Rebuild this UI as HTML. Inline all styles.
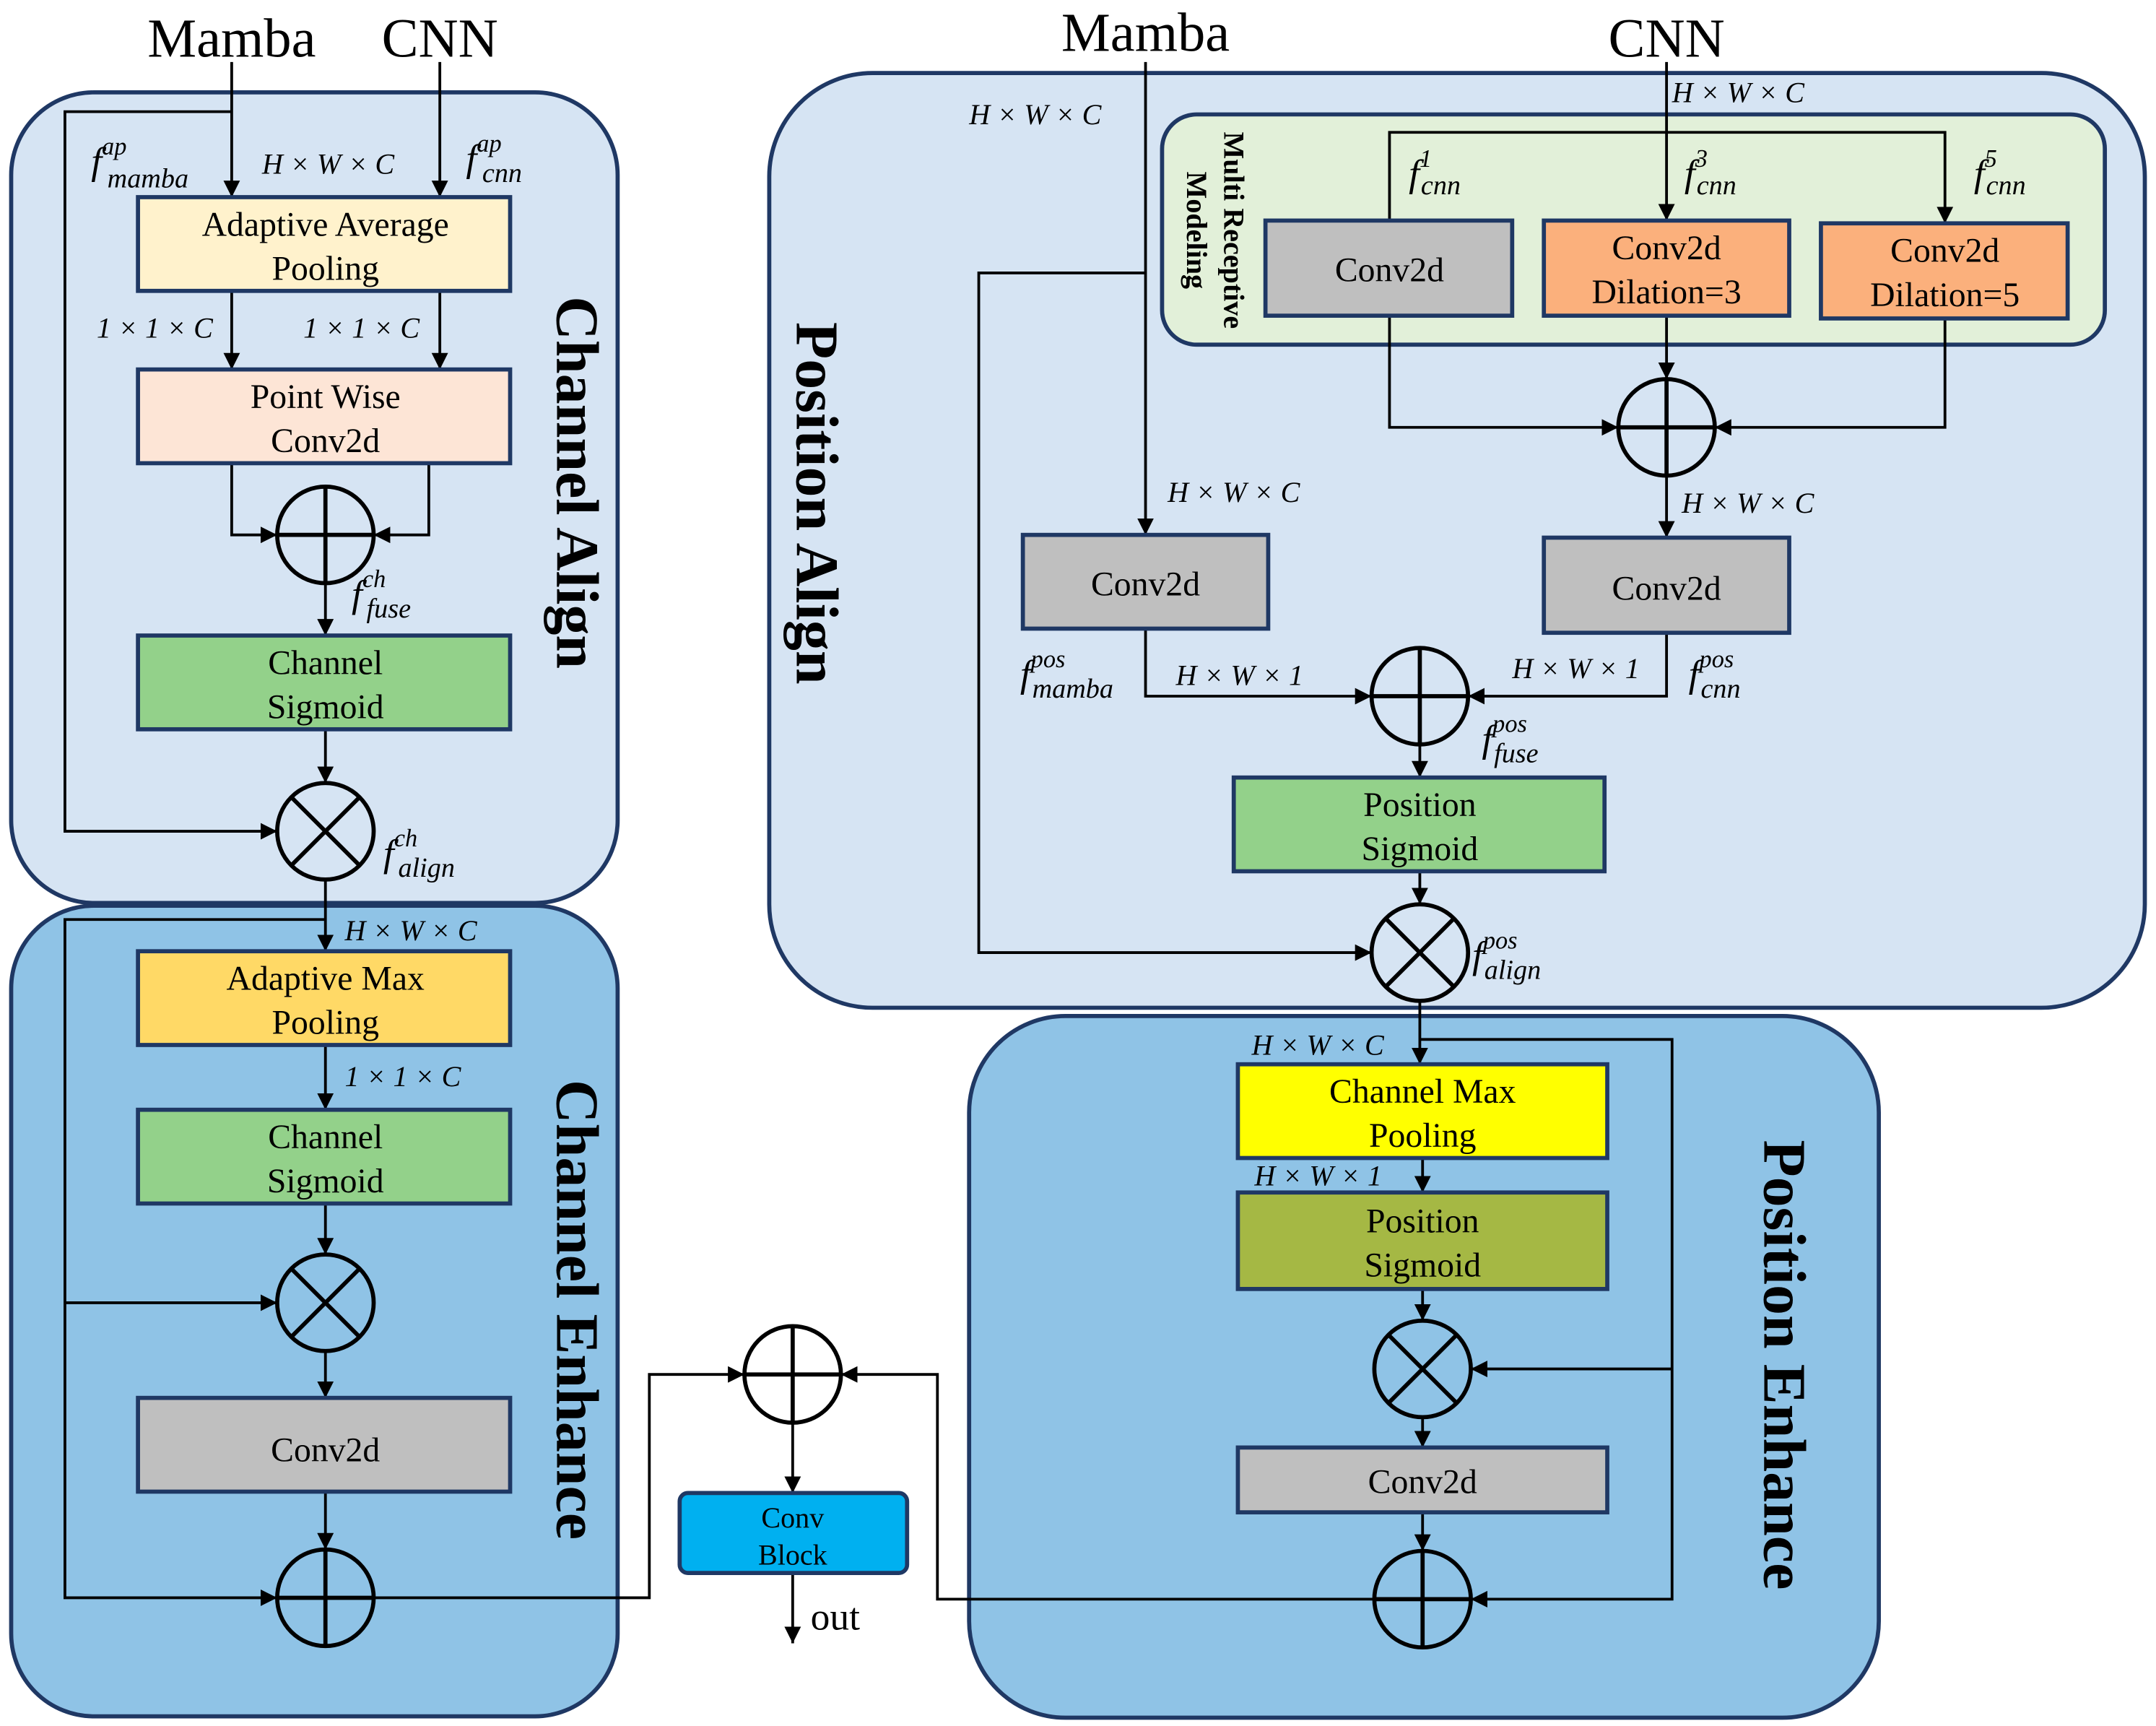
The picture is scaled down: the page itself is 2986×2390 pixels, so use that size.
<!DOCTYPE html>
<html><head><meta charset="utf-8"><style>html,body{margin:0;padding:0;background:#fff}svg{display:block}svg text{font-family:"Liberation Serif",serif}</style></head><body>
<svg width="2986" height="2390" viewBox="0 0 1564 1252" xmlns="http://www.w3.org/2000/svg">
<defs><marker id="a" viewBox="0 0 10 10" refX="10" refY="5" markerWidth="12" markerHeight="12" markerUnits="userSpaceOnUse" orient="auto"><path d="M0,0L10,5L0,10z" fill="#000"/></marker></defs>
<rect x="8" y="67" width="440" height="588" rx="60" fill="#d6e4f3" stroke="#1f3864" stroke-width="3"/>
<rect x="8" y="657" width="440" height="588" rx="60" fill="#8fc3e6" stroke="#1f3864" stroke-width="3"/>
<rect x="558" y="53" width="998" height="678" rx="75" fill="#d6e4f3" stroke="#1f3864" stroke-width="3"/>
<rect x="703" y="737" width="660" height="509" rx="70" fill="#8fc3e6" stroke="#1f3864" stroke-width="3"/>
<rect x="843" y="83" width="684" height="167" rx="25" fill="#e2f0d9" stroke="#1f3864" stroke-width="3"/>
<g stroke="#000" stroke-width="2" fill="none">
<path d="M168 45V143" marker-end="url(#a)"/><path d="M319 45V143" marker-end="url(#a)"/>
<path d="M168 81H47V603H201" marker-end="url(#a)"/>
<path d="M168 211V268" marker-end="url(#a)"/><path d="M319 211V268" marker-end="url(#a)"/>
<path d="M168 336V388H201" marker-end="url(#a)"/><path d="M311 336V388H271" marker-end="url(#a)"/>
<path d="M236 423V461" marker-end="url(#a)"/>
<path d="M236 529V568" marker-end="url(#a)"/>
<path d="M236 638V690" marker-end="url(#a)"/>
<path d="M236 667H47V1159H201" marker-end="url(#a)"/>
<path d="M47 945H201" marker-end="url(#a)"/>
<path d="M236 758V805" marker-end="url(#a)"/>
<path d="M236 873V910" marker-end="url(#a)"/>
<path d="M236 980V1014" marker-end="url(#a)"/>
<path d="M236 1082V1124" marker-end="url(#a)"/>
<path d="M271 1159H471V997H540" marker-end="url(#a)"/>
<path d="M997 1160H680V997H610" marker-end="url(#a)"/>
<path d="M575 1032V1083" marker-end="url(#a)"/>
<path d="M575 1141V1192" marker-end="url(#a)"/>
<path d="M831 45V388" marker-end="url(#a)"/>
<path d="M831 198H710V691H995" marker-end="url(#a)"/>
<path d="M1209 45V160" marker-end="url(#a)"/>
<path d="M1008 160V96H1411V162" marker-end="url(#a)"/>
<path d="M1209 229V275" marker-end="url(#a)"/>
<path d="M1008 229V310H1174" marker-end="url(#a)"/>
<path d="M1411 231V310H1244" marker-end="url(#a)"/>
<path d="M1209 345V390" marker-end="url(#a)"/>
<path d="M831 456V505H995" marker-end="url(#a)"/>
<path d="M1209 459V505H1065" marker-end="url(#a)"/>
<path d="M1030 540V564" marker-end="url(#a)"/>
<path d="M1030 632V656" marker-end="url(#a)"/>
<path d="M1030 726V772" marker-end="url(#a)"/>
<path d="M1030 754H1213V1160H1067" marker-end="url(#a)"/>
<path d="M1213 993H1067" marker-end="url(#a)"/>
<path d="M1032 840V865" marker-end="url(#a)"/>
<path d="M1032 935V958" marker-end="url(#a)"/>
<path d="M1032 1028V1050" marker-end="url(#a)"/>
<path d="M1032 1097V1125" marker-end="url(#a)"/>
</g>
<g stroke="#1f3864" stroke-width="3">
<rect x="100" y="143" width="270" height="68" fill="#fff2cc"/>
<rect x="100" y="268" width="270" height="68" fill="#fde5d6"/>
<rect x="100" y="461" width="270" height="68" fill="#93d18a"/>
<rect x="100" y="690" width="270" height="68" fill="#ffd966"/>
<rect x="100" y="805" width="270" height="68" fill="#93d18a"/>
<rect x="100" y="1014" width="270" height="68" fill="#bfbfbf"/>
<rect x="493" y="1083" width="165" height="58" rx="6" fill="#00b0f0"/>
<rect x="918" y="160" width="179" height="69" fill="#bfbfbf"/>
<rect x="1120" y="160" width="178" height="69" fill="#fbb07c"/>
<rect x="1321" y="162" width="179" height="69" fill="#fbb07c"/>
<rect x="742" y="388" width="178" height="68" fill="#bfbfbf"/>
<rect x="1120" y="390" width="178" height="69" fill="#bfbfbf"/>
<rect x="895" y="564" width="269" height="68" fill="#93d18a"/>
<rect x="898" y="772" width="268" height="68" fill="#ffff00"/>
<rect x="898" y="865" width="268" height="70" fill="#a5b844"/>
<rect x="898" y="1050" width="268" height="47" fill="#bfbfbf"/>
</g>
<g stroke="#000" stroke-width="3" fill="none">
<g><circle cx="236" cy="388" r="35"/><path d="M201 388H271M236 353V423"/></g>
<g><circle cx="236" cy="603" r="35"/><path d="M211 578L261 628M261 578L211 628"/></g>
<g><circle cx="236" cy="945" r="35"/><path d="M211 920L261 970M261 920L211 970"/></g>
<g><circle cx="236" cy="1159" r="35"/><path d="M201 1159H271M236 1124V1194"/></g>
<g><circle cx="575" cy="997" r="35"/><path d="M540 997H610M575 962V1032"/></g>
<g><circle cx="1209" cy="310" r="35"/><path d="M1174 310H1244M1209 275V345"/></g>
<g><circle cx="1030" cy="505" r="35"/><path d="M995 505H1065M1030 470V540"/></g>
<g><circle cx="1030" cy="691" r="35"/><path d="M1005 666L1055 716M1055 666L1005 716"/></g>
<g><circle cx="1032" cy="993" r="35"/><path d="M1007 968L1057 1018M1057 968L1007 1018"/></g>
<g><circle cx="1032" cy="1160" r="35"/><path d="M997 1160H1067M1032 1125V1195"/></g>
</g>
<g font-size="25" text-anchor="middle" fill="#000">
<text x="236" y="171">Adaptive Average</text><text x="236" y="203">Pooling</text>
<text x="236" y="296">Point Wise</text><text x="236" y="328">Conv2d</text>
<text x="236" y="489">Channel</text><text x="236" y="521">Sigmoid</text>
<text x="236" y="718">Adaptive Max</text><text x="236" y="750">Pooling</text>
<text x="236" y="833">Channel</text><text x="236" y="865">Sigmoid</text>
<text x="236" y="1060">Conv2d</text>
<text x="1008" y="204">Conv2d</text>
<text x="1209" y="188">Conv2d</text><text x="1209" y="220">Dilation=3</text>
<text x="1411" y="190">Conv2d</text><text x="1411" y="222">Dilation=5</text>
<text x="831" y="432">Conv2d</text>
<text x="1209" y="435">Conv2d</text>
<text x="1030" y="592">Position</text><text x="1030" y="624">Sigmoid</text>
<text x="1032" y="800">Channel Max</text><text x="1032" y="832">Pooling</text>
<text x="1032" y="894">Position</text><text x="1032" y="926">Sigmoid</text>
<text x="1032" y="1083">Conv2d</text>
<text x="575" y="1108" font-size="21">Conv</text><text x="575" y="1135" font-size="21">Block</text>
</g>
<g font-size="40" text-anchor="middle">
<text x="168" y="41">Mamba</text><text x="319" y="41">CNN</text>
<text x="831" y="37">Mamba</text><text x="1209" y="41">CNN</text>
</g>
<text x="588" y="1182" font-size="28">out</text>
<g font-size="44" font-weight="bold" text-anchor="middle">
<text transform="translate(404,350) rotate(90)">Channel Align</text>
<text transform="translate(404,950) rotate(90)">Channel Enhance</text>
<text transform="translate(578,365) rotate(90)">Position Align</text>
<text transform="translate(1280,990) rotate(90)">Position Enhance</text>
</g>
<g font-size="21" font-weight="bold" text-anchor="middle">
<text transform="translate(888,167) rotate(90)">Multi Receptive</text>
<text transform="translate(861,167) rotate(90)">Modeling</text>
</g>
<g font-size="21" font-style="italic" fill="#000">
<text x="190" y="126">H × W × C</text>
<text x="70" y="245">1 × 1 × C</text><text x="220" y="245">1 × 1 × C</text>
<text x="250" y="682">H × W × C</text>
<text x="250" y="788">1 × 1 × C</text>
<text x="703" y="90">H × W × C</text>
<text x="1213" y="74">H × W × C</text>
<text x="847" y="364">H × W × C</text>
<text x="1220" y="372">H × W × C</text>
<text x="853" y="497">H × W × 1</text>
<text x="1097" y="492">H × W × 1</text>
<text x="908" y="765">H × W × C</text>
<text x="910" y="860">H × W × 1</text>
</g>
<g font-style="italic" fill="#000">
<text x="66" y="126" font-size="28">f<tspan font-size="18" dy="-14">ap</tspan><tspan font-size="20" dx="-14" dy="24">mamba</tspan></text>
<text x="338" y="124" font-size="28">f<tspan font-size="18" dy="-14">ap</tspan><tspan font-size="20" dx="-14" dy="22">cnn</tspan></text>
<text x="255" y="440" font-size="28">f<tspan font-size="18" dy="-14">ch</tspan><tspan font-size="20" dx="-14" dy="22">fuse</tspan></text>
<text x="278" y="628" font-size="28">f<tspan font-size="18" dy="-14">ch</tspan><tspan font-size="20" dx="-14" dy="22">align</tspan></text>
<text x="1022" y="135" font-size="28">f<tspan font-size="18" dy="-14">1</tspan><tspan font-size="20" dx="-8" dy="20">cnn</tspan></text>
<text x="1222" y="135" font-size="28">f<tspan font-size="18" dy="-14">3</tspan><tspan font-size="20" dx="-8" dy="20">cnn</tspan></text>
<text x="1432" y="135" font-size="28">f<tspan font-size="18" dy="-14">5</tspan><tspan font-size="20" dx="-8" dy="20">cnn</tspan></text>
<text x="740" y="498" font-size="28">f<tspan font-size="18" dy="-14">pos</tspan><tspan font-size="20" dx="-24" dy="22">mamba</tspan></text>
<text x="1225" y="498" font-size="28">f<tspan font-size="18" dy="-14">pos</tspan><tspan font-size="20" dx="-24" dy="22">cnn</tspan></text>
<text x="1075" y="545" font-size="28">f<tspan font-size="18" dy="-14">pos</tspan><tspan font-size="20" dx="-24" dy="22">fuse</tspan></text>
<text x="1068" y="702" font-size="28">f<tspan font-size="18" dy="-14">pos</tspan><tspan font-size="20" dx="-24" dy="22">align</tspan></text>
</g>
</svg>
</body></html>
